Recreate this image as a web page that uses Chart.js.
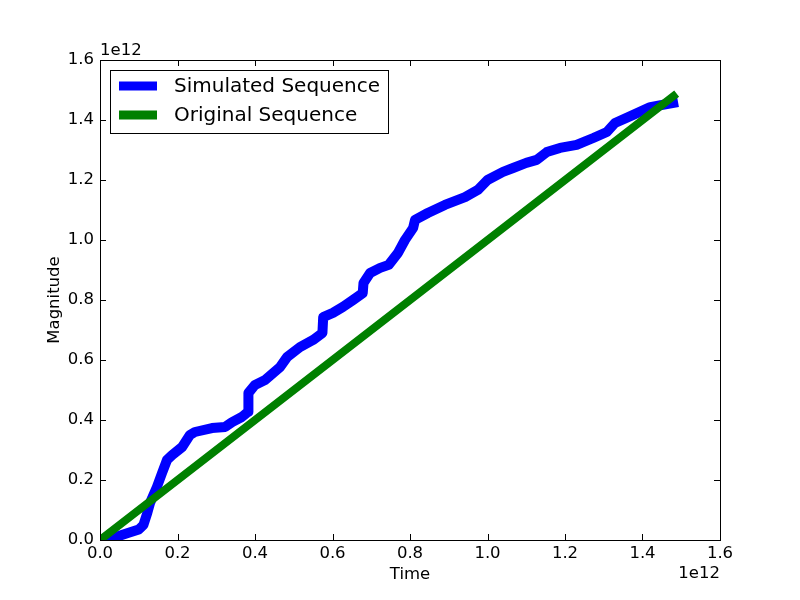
<!DOCTYPE html>
<html>
<head>
<meta charset="utf-8">
<script src="https://cdn.jsdelivr.net/npm/chart.js@4/dist/chart.umd.min.js"></script>
<style>
  body { margin: 0; background: #fff; }
  #wrap { width: 800px; height: 600px; }
</style>
</head>
<body>
<div id="wrap"><canvas id="chart" width="800" height="600"></canvas></div>
<script>
// values are in units of 1e12 (matplotlib offset label)
const simTime = [0.01, 0.04, 0.072, 0.10, 0.112, 0.122, 0.129, 0.147, 0.16, 0.173, 0.186, 0.212,
  0.232, 0.245, 0.289, 0.323, 0.341, 0.366, 0.382, 0.383, 0.40, 0.426, 0.465, 0.483, 0.516,
  0.55, 0.574, 0.576, 0.601, 0.627, 0.653, 0.678, 0.68, 0.697, 0.723, 0.745, 0.769, 0.787,
  0.808, 0.813, 0.846, 0.89, 0.942, 0.975, 1.0, 1.04, 1.066, 1.10, 1.127, 1.153, 1.187,
  1.23, 1.273, 1.308, 1.329, 1.376, 1.42, 1.479];
const simMagnitude = [0.0, 0.01, 0.023, 0.035, 0.05, 0.09, 0.123, 0.177, 0.223, 0.267, 0.283, 0.31,
  0.35, 0.36, 0.373, 0.377, 0.393, 0.41, 0.427, 0.49, 0.517, 0.533, 0.577, 0.61, 0.643,
  0.667, 0.69, 0.743, 0.757, 0.777, 0.80, 0.823, 0.857, 0.89, 0.907, 0.917, 0.957, 1.0,
  1.04, 1.067, 1.09, 1.117, 1.143, 1.167, 1.2, 1.227, 1.24, 1.257, 1.267, 1.293, 1.307,
  1.317, 1.34, 1.36, 1.39, 1.417, 1.443, 1.457];
const origTime = [0.0, 1.48];
const origMagnitude = [0.0, 1.48];
const axisTicks = [0.0, 0.2, 0.4, 0.6, 0.8, 1.0, 1.2, 1.4, 1.6];
const offsetLabel = '1e12';

const FONT = 'DejaVu Sans';

function pairs(xs, ys) {
  return xs.map((x, i) => ({ x: x, y: ys[i] }));
}

// matplotlib style frame, inward ticks, offset text and legend
const mplPlugin = {
  id: 'mplFrame',
  afterDraw(chart) {
    const ctx = chart.ctx;
    const a = chart.chartArea;
    const xs = chart.scales.x, ys = chart.scales.y;
    ctx.save();
    ctx.strokeStyle = '#000';
    ctx.lineWidth = 1;
    ctx.beginPath();
    xs.ticks.forEach(t => {
      const px = Math.round(xs.getPixelForValue(t.value)) + 0.5;
      ctx.moveTo(px, a.bottom); ctx.lineTo(px, a.bottom - 6);
      ctx.moveTo(px, a.top); ctx.lineTo(px, a.top + 6);
    });
    ys.ticks.forEach(t => {
      const py = Math.round(ys.getPixelForValue(t.value)) + 0.5;
      ctx.moveTo(a.left, py); ctx.lineTo(a.left + 6, py);
      ctx.moveTo(a.right, py); ctx.lineTo(a.right - 6, py);
    });
    ctx.stroke();
    ctx.strokeRect(Math.round(a.left) + 0.5, Math.round(a.top) + 0.5,
      Math.round(a.right - a.left), Math.round(a.bottom - a.top));

    ctx.fillStyle = '#000';
    ctx.font = '16.5px "' + FONT + '"';
    ctx.textBaseline = 'alphabetic';
    ctx.textAlign = 'left';
    ctx.fillText(offsetLabel, a.left, a.top - 5);
    ctx.textAlign = 'right';
    ctx.fillText(offsetLabel, a.right, a.bottom + 38);

    // legend
    const lx = a.left + 10, ly = a.top + 10, lw = 278, lh = 63;
    ctx.fillStyle = '#fff';
    ctx.fillRect(lx, ly, lw, lh);
    ctx.strokeRect(lx + 0.5, ly + 0.5, lw, lh);
    ctx.font = '20px "' + FONT + '"';
    ctx.textAlign = 'left';
    ctx.textBaseline = 'middle';
    chart.data.datasets.forEach((ds, i) => {
      const cy = ly + 16 + i * 29;
      ctx.fillStyle = ds.borderColor;
      ctx.fillRect(lx + 9, cy - 4.5, 38, 9);
      ctx.fillStyle = '#000';
      ctx.fillText(ds.label, lx + 64, cy + 1);
    });
    ctx.restore();
  }
};

const context = document.getElementById('chart').getContext('2d');
const chart = new Chart(context, {
  type: 'line',
  data: {
    datasets: [
      {
        label: 'Simulated Sequence',
        data: pairs(simTime, simMagnitude),
        borderColor: '#0000ff',
        backgroundColor: '#0000ff',
        borderWidth: 10,
        borderCapStyle: 'square',
        borderJoinStyle: 'round',
        pointRadius: 0,
        fill: false,
        clip: 0,
        order: 2
      },
      {
        label: 'Original Sequence',
        data: pairs(origTime, origMagnitude),
        borderColor: '#008000',
        backgroundColor: '#008000',
        borderWidth: 8,
        borderCapStyle: 'square',
        pointRadius: 0,
        fill: false,
        clip: 0,
        order: 1
      }
    ]
  },
  options: {
    responsive: false,
    animation: false,
    layout: { padding: { left: 0, top: 60, right: 80, bottom: 0 } },
    plugins: { legend: { display: false }, tooltip: { enabled: false } },
    scales: {
      x: {
        type: 'linear',
        min: 0, max: 1.6,
        afterBuildTicks: s => { s.ticks = axisTicks.map(v => ({ value: v })); },
        afterFit: s => { s.height = 60; },
        grid: { display: false, drawTicks: false },
        border: { display: false },
        ticks: {
          padding: 4,
          color: '#000',
          font: { family: FONT, size: 16.5 },
          callback: v => v.toFixed(1)
        },
        title: {
          display: true, text: 'Time', color: '#000',
          font: { family: FONT, size: 16.5 },
          padding: { top: 0, bottom: 15 }
        }
      },
      y: {
        type: 'linear',
        min: 0, max: 1.6,
        afterBuildTicks: s => { s.ticks = axisTicks.map(v => ({ value: v })); },
        afterFit: s => { s.width = 100; },
        grid: { display: false, drawTicks: false },
        border: { display: false },
        ticks: {
          padding: 6,
          color: '#000',
          font: { family: FONT, size: 16.5 },
          callback: v => v.toFixed(1)
        },
        title: {
          display: true, text: 'Magnitude', color: '#000',
          font: { family: FONT, size: 16.5 },
          padding: { top: 45, bottom: 0 }
        }
      }
    }
  },
  plugins: [mplPlugin]
});
</script>
</body>
</html>
